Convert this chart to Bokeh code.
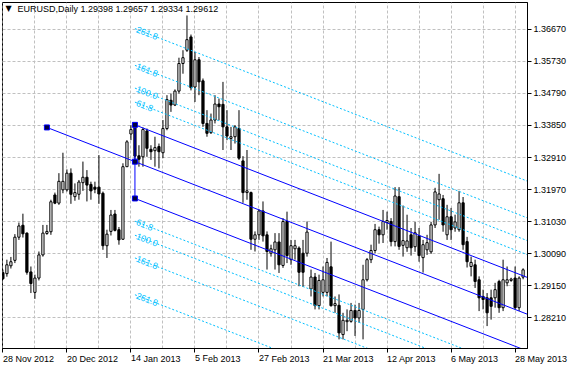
import math
from bokeh.plotting import figure
from bokeh.models import (Range1d, FixedTicker, LinearAxis, Label, ColumnDataSource,
                          Grid, PrintfTickFormatter)
from bokeh.core.properties import value
from bokeh.embed import file_html
from bokeh.resources import INLINE

symbol = "EURUSD,Daily"

opens = [
    1.2953, 1.2950, 1.2973, 1.2989, 1.3057, 1.3092, 1.3069, 1.2955, 1.2895, 1.2937,
    1.3005, 1.3068, 1.3073, 1.3181, 1.3157, 1.3196, 1.3196, 1.3245, 1.3176, 1.3183,
    1.3217, 1.3233, 1.3212, 1.3204, 1.3204, 1.3186, 1.3032, 1.3074, 1.3125, 1.3079,
    1.3051, 1.3264, 1.3360, 1.3383, 1.3296, 1.3293, 1.3369, 1.3315, 1.3311, 1.3323,
    1.3305, 1.3376, 1.3459, 1.3445, 1.3486, 1.3567, 1.3606, 1.3645, 1.3498, 1.3578,
    1.3516, 1.3391, 1.3364, 1.3401, 1.3448, 1.3447, 1.3381, 1.3347, 1.3352, 1.3376,
    1.3281, 1.3188, 1.3188, 1.3051, 1.3064, 1.3134, 1.3064, 1.3010, 1.3020, 1.3043,
    1.2974, 1.3103, 1.2991, 1.3023, 1.3025, 1.3010, 1.3010, 1.2905, 1.2940, 1.2856,
    1.2895, 1.2895, 1.2970, 1.2856, 1.2857, 1.2771, 1.2809, 1.2810, 1.2842, 1.2820,
    1.2845, 1.2932, 1.2991, 1.3018, 1.3079, 1.3064, 1.3100, 1.3103, 1.3044, 1.3176,
    1.3033, 1.3026, 1.3064, 1.3029, 1.3061, 1.2997, 1.3020, 1.3014, 1.3093, 1.3167,
    1.3170, 1.3064, 1.3117, 1.3084, 1.3079, 1.3158, 1.3044, 1.2971, 1.2976, 1.2932,
    1.2883, 1.2879, 1.2879, 1.2879, 1.2927, 1.2850, 1.2923, 1.2930, 1.2937, 1.2850,
    1.29398]

highs = [
    1.2962, 1.2991, 1.2999, 1.3066, 1.3100, 1.3126, 1.3071, 1.2971, 1.2947, 1.3015,
    1.3093, 1.3093, 1.3167, 1.3188, 1.3245, 1.3305, 1.3256, 1.3259, 1.3215, 1.3225,
    1.3279, 1.3254, 1.3220, 1.3220, 1.3298, 1.3191, 1.3079, 1.3137, 1.3137, 1.3087,
    1.3274, 1.3342, 1.3386, 1.3389, 1.3327, 1.3379, 1.3376, 1.3327, 1.3352, 1.3332,
    1.3401, 1.3474, 1.3479, 1.3491, 1.3584, 1.3606, 1.3708, 1.3652, 1.3601, 1.3586,
    1.3523, 1.3430, 1.3420, 1.3474, 1.3464, 1.3513, 1.3430, 1.3381, 1.3386, 1.3430,
    1.3295, 1.3313, 1.3191, 1.3074, 1.3139, 1.3162, 1.3074, 1.3035, 1.3069, 1.3069,
    1.3113, 1.3132, 1.3049, 1.3049, 1.3030, 1.3049, 1.3103, 1.2962, 1.2952, 1.2947,
    1.2971, 1.2996, 1.3044, 1.2883, 1.2889, 1.2835, 1.2845, 1.2864, 1.2859, 1.2864,
    1.2976, 1.2996, 1.3035, 1.3096, 1.3088, 1.3137, 1.3132, 1.3113, 1.3204, 1.3204,
    1.3150, 1.3123, 1.3084, 1.3102, 1.3084, 1.3049, 1.3064, 1.3102, 1.3202, 1.3243,
    1.3181, 1.3152, 1.3143, 1.3123, 1.3193, 1.3175, 1.3058, 1.3000, 1.2991, 1.2942,
    1.2903, 1.2893, 1.2903, 1.2923, 1.2932, 1.2991, 1.2971, 1.2938, 1.2971, 1.2942,
    1.29657]

lows = [
    1.2932, 1.2941, 1.2965, 1.2981, 1.3049, 1.3056, 1.2947, 1.2893, 1.2876, 1.2930,
    1.3000, 1.3064, 1.3064, 1.3154, 1.3152, 1.3186, 1.3191, 1.3155, 1.3164, 1.3167,
    1.3193, 1.3162, 1.3167, 1.3186, 1.3155, 1.3020, 1.2996, 1.3062, 1.3074, 1.3035,
    1.3049, 1.3263, 1.3342, 1.3284, 1.3264, 1.3264, 1.3293, 1.3284, 1.3264, 1.3259,
    1.3289, 1.3371, 1.3425, 1.3442, 1.3479, 1.3537, 1.3601, 1.3488, 1.3454, 1.3474,
    1.3381, 1.3352, 1.3360, 1.3391, 1.3400, 1.3313, 1.3342, 1.3313, 1.3332, 1.3284,
    1.3158, 1.3167, 1.3020, 1.3015, 1.3049, 1.3044, 1.2962, 1.3000, 1.2962, 1.2952,
    1.2967, 1.2981, 1.2976, 1.2991, 1.2913, 1.2911, 1.3000, 1.2883, 1.2845, 1.2845,
    1.2883, 1.2883, 1.2853, 1.2835, 1.2757, 1.2757, 1.2781, 1.2806, 1.2767, 1.2806,
    1.2757, 1.2927, 1.2981, 1.3010, 1.3038, 1.3040, 1.3079, 1.3030, 1.3030, 1.3020,
    1.3000, 1.3014, 1.3003, 1.3014, 1.2985, 1.2953, 1.3005, 1.3008, 1.3084, 1.3108,
    1.3073, 1.3049, 1.3049, 1.3073, 1.3073, 1.3020, 1.2968, 1.2942, 1.2908, 1.2840,
    1.2845, 1.2796, 1.2815, 1.2850, 1.2835, 1.2840, 1.2913, 1.2926, 1.2845, 1.2840,
    1.29334]

closes = [
    1.2935, 1.2976, 1.2985, 1.3057, 1.3090, 1.3067, 1.2954, 1.2921, 1.2937, 1.3005,
    1.3069, 1.3074, 1.3161, 1.3157, 1.3221, 1.3221, 1.3245, 1.3183, 1.3188, 1.3219,
    1.3233, 1.3210, 1.3193, 1.3198, 1.3184, 1.3032, 1.3066, 1.3122, 1.3077, 1.3049,
    1.3264, 1.3337, 1.3373, 1.3295, 1.3286, 1.3373, 1.3318, 1.3308, 1.3320, 1.3308,
    1.3376, 1.3461, 1.3445, 1.3486, 1.3567, 1.3584, 1.3637, 1.3496, 1.3578, 1.3513,
    1.3391, 1.3362, 1.3401, 1.3448, 1.3440, 1.3381, 1.3354, 1.3352, 1.3381, 1.3289,
    1.3188, 1.3193, 1.3051, 1.3064, 1.3134, 1.3061, 1.3015, 1.3023, 1.3043, 1.2976,
    1.3103, 1.3003, 1.3032, 1.3032, 1.2954, 1.2954, 1.3072, 1.2940, 1.2856, 1.2930,
    1.2932, 1.2983, 1.2856, 1.2862, 1.2776, 1.2813, 1.2813, 1.2842, 1.2820, 1.2842,
    1.2932, 1.2991, 1.3018, 1.3079, 1.3064, 1.3103, 1.3106, 1.3044, 1.3178, 1.3030,
    1.3047, 1.3046, 1.3026, 1.3070, 1.3003, 1.3035, 1.3041, 1.3093, 1.3190, 1.3184,
    1.3093, 1.3117, 1.3079, 1.3102, 1.3158, 1.3035, 1.2985, 1.2983, 1.2927, 1.2879,
    1.2874, 1.2835, 1.2854, 1.2903, 1.2850, 1.2932, 1.2932, 1.2934, 1.2850, 1.2937,
    1.29612]

date_tick_bars = [0, 16, 32, 48, 64, 80, 96, 112, 128]
date_tick_labels = ["28 Nov 2012", "20 Dec 2012", "14 Jan 2013", "5 Feb 2013",
                    "27 Feb 2013", "21 Mar 2013", "12 Apr 2013", "6 May 2013", "28 May 2013"]
grid_bars = [0, 8, 16, 24, 32, 40, 48, 56, 64, 72, 80, 88, 96, 104, 112, 120, 128]
price_ticks = [1.28210, 1.29150, 1.30090, 1.31030, 1.31970,
               1.32910, 1.33850, 1.34790, 1.35730, 1.36670]

# Fibonacci channel
anchor_bars = [11, 33]
anchor_prices = [1.33793, 1.32788]
channel_width = 0.0108
fib_levels = [61.8, 100.0, 161.8, 261.8]

x_start, x_end = -0.1, 131.1
y_start, y_end = 1.27302, 1.37461

FONT = "Liberation Sans"
FS = 9
W, H = 580, 371
BORDER_L, BORDER_T, BORDER_R, BORDER_B = 2, 2, 53, 22
FRAME_W, FRAME_H = W - BORDER_L - BORDER_R, H - BORDER_T - BORDER_B

p = figure(width=W, height=H, output_backend="svg", toolbar_location=None,
           x_range=Range1d(x_start, x_end), y_range=Range1d(y_start, y_end),
           x_axis_type=None, y_axis_type=None,
           min_border_left=BORDER_L, min_border_top=BORDER_T,
           min_border_right=BORDER_R, min_border_bottom=BORDER_B,
           background_fill_color="white", border_fill_color="white")
p.outline_line_color = "black"
p.outline_line_alpha = 1.0
p.outline_line_width = 1

p.add_layout(Grid(dimension=0, ticker=FixedTicker(ticks=grid_bars),
                  grid_line_color="#c0c0c0", grid_line_dash="3 2"))
p.add_layout(Grid(dimension=1, ticker=FixedTicker(ticks=price_ticks),
                  grid_line_color="#c0c0c0", grid_line_dash="3 2"))

yaxis = LinearAxis(ticker=FixedTicker(ticks=price_ticks),
                   formatter=PrintfTickFormatter(format="%.5f"),
                   major_tick_out=4, major_tick_in=0, minor_tick_out=0, minor_tick_in=0,
                   major_label_standoff=2, axis_line_color="black",
                   major_tick_line_color="black",
                   major_label_text_font=FONT, major_label_text_font_size=f"{FS}px",
                   major_label_text_color="black")
p.add_layout(yaxis, "right")

# date axis: a vanishingly small negative label angle makes Bokeh left-align the
# labels at their tick, as in the MetaTrader time scale
xaxis = LinearAxis(ticker=FixedTicker(ticks=date_tick_bars),
                   major_label_overrides={b: t for b, t in zip(date_tick_bars, date_tick_labels)},
                   major_label_orientation=-1e-6,
                   major_tick_out=4, major_tick_in=0, minor_tick_out=0, minor_tick_in=0,
                   major_label_standoff=6, axis_line_color="black",
                   major_tick_line_color="black",
                   major_label_text_font=FONT, major_label_text_font_size=f"{FS}px",
                   major_label_text_color="black")
p.add_layout(xaxis, "below")

# candles
n = len(opens)
bars = list(range(n))
tops = [max(o, c) for o, c in zip(opens, closes)]
bots = [min(o, c) for o, c in zip(opens, closes)]
up = [c >= o for o, c in zip(opens, closes)]

wick_src = ColumnDataSource(dict(x=bars, low=lows, high=highs))
p.segment(x0="x", y0="low", x1="x", y1="high", source=wick_src,
          line_color="black", line_width=1)

up_src = ColumnDataSource(dict(x=[b for b, u in zip(bars, up) if u],
                               top=[t for t, u in zip(tops, up) if u],
                               bottom=[t for t, u in zip(bots, up) if u]))
dn_src = ColumnDataSource(dict(x=[b for b, u in zip(bars, up) if not u],
                               top=[t for t, u in zip(tops, up) if not u],
                               bottom=[t for t, u in zip(bots, up) if not u]))
p.vbar(x="x", top="top", bottom="bottom", width=0.55, source=up_src,
       fill_color="white", line_color="black", line_width=1)
p.vbar(x="x", top="top", bottom="bottom", width=0.55, source=dn_src,
       fill_color="black", line_color="black", line_width=1)

# channel geometry
b0, b1 = anchor_bars
p0, p1 = anchor_prices
slope = (p1 - p0) / (b1 - b0)
x_far = x_end + 10


def line_at(bx, base_bar, base_price):
    return base_price + slope * (bx - base_bar)


# fibonacci level lines (dotted)
fx0, fy0, fx1, fy1 = [], [], [], []
lab_x, lab_y, lab_t = [], [], []
for r in fib_levels:
    for s in (1, -1):
        off = s * channel_width * (1 + r / 100.0)
        fx0.append(b1)
        fy0.append(p1 + off)
        fx1.append(x_far)
        fy1.append(line_at(x_far, b1, p1 + off))
        lab_x.append(b1 + 0.4)
        lab_y.append(line_at(b1 + 0.4, b1, p1 + off))
        lab_t.append(f"{r:.1f}")
p.segment(x0=fx0, y0=fy0, x1=fx1, y1=fy1, line_color="#00BFFF", line_width=1,
          line_dash="2 2")

ppb = FRAME_W / (x_end - x_start)
ppp = FRAME_H / (y_end - y_start)
ang = math.atan(slope * ppp / ppb)
p.text(x=lab_x, y=lab_y, text=lab_t, angle=ang, text_align="left",
       text_baseline="middle", text_font=value(FONT), text_font_size=f"{FS}px",
       text_color="#00BFFF")

# solid channel lines
sx0 = [b0, b1, b1, b1]
sy0 = [p0, p1 + channel_width, p1 - channel_width, p1 - channel_width]
sx1 = [x_far, x_far, x_far, b1]
sy1 = [line_at(x_far, b0, p0), line_at(x_far, b1, p1 + channel_width),
       line_at(x_far, b1, p1 - channel_width), p1 + channel_width]
p.segment(x0=sx0, y0=sy0, x1=sx1, y1=sy1, line_color="#0000FF", line_width=1)

p.scatter(x=[b0, b1, b1, b1], y=[p0, p1, p1 + channel_width, p1 - channel_width],
          marker="square", size=5, fill_color="#000040", line_color="#0000FF", line_width=1)

# header
header = f"{symbol}  {opens[-1]:.5f} {highs[-1]:.5f} {lows[-1]:.5f} {closes[-1]:.5f}"
hy = y_end - 1.5 / ppp
p.add_layout(Label(x=x_start, y=hy, x_offset=3, text="\u25bc", text_baseline="top",
                   text_font="DejaVu Sans", text_font_size="8px", text_color="black"))
p.add_layout(Label(x=x_start, y=hy, x_offset=15, text=header, text_baseline="top",
                   text_font=FONT, text_font_size=f"{FS}px", text_color="black"))

open("out.html", "w").write(file_html(p, INLINE))
